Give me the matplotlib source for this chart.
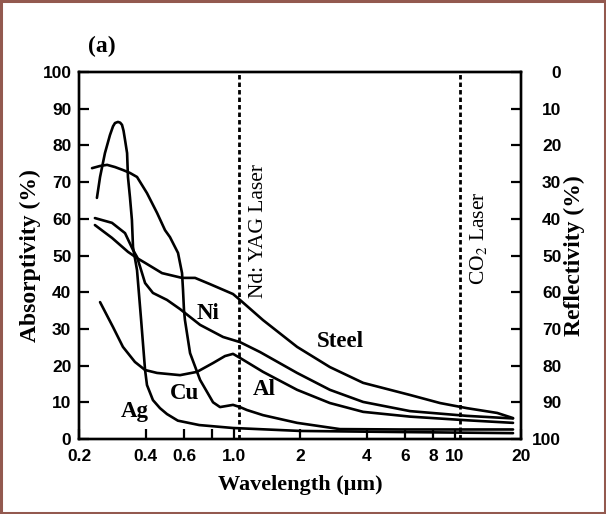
import numpy as np
import matplotlib
matplotlib.use("Agg")
import matplotlib.pyplot as plt
from matplotlib.patches import Rectangle

plt.rcParams["mathtext.fontset"] = "stix"

# wavelength (um) / absorptivity (%)
ag_wl = [0.241, 0.249, 0.262, 0.276, 0.285, 0.291, 0.300, 0.307, 0.313, 0.318,
         0.323, 0.330, 0.333, 0.340, 0.347, 0.351, 0.366, 0.382, 0.398, 0.406,
         0.432, 0.465, 0.500, 0.560, 0.700, 0.995, 2.0, 5.67, 18.4]
ag_abs = [65.7, 71.4, 77.9, 82.8, 85.2, 86.1, 86.4, 86.2, 85.6, 84.0,
          81.5, 77.9, 71.4, 65.9, 59.7, 52.3, 46.0, 32.4, 18.8, 14.7,
          10.6, 8.4, 6.8, 5.0, 3.8, 3.0, 2.2, 1.9, 1.6]

cu_wl = [0.229, 0.249, 0.268, 0.291, 0.316, 0.340, 0.366, 0.406, 0.451, 0.490,
         0.516, 0.561, 0.585, 0.591, 0.597, 0.603, 0.636, 0.706, 0.808, 0.869,
         0.995, 1.070, 1.15, 1.36, 1.94, 3.03, 5.67, 18.4]
cu_abs = [73.8, 74.4, 74.7, 74.1, 73.3, 72.5, 71.4, 67.0, 61.6, 56.9,
          55.0, 50.7, 45.2, 40.6, 35.1, 32.4, 23.4, 16.1, 10.0, 8.7,
          9.3, 8.7, 7.9, 6.5, 4.4, 2.7, 2.6, 2.6]

al_wl = [0.249, 0.285, 0.316, 0.358, 0.398, 0.451, 0.573, 0.684, 0.808, 0.915,
         0.995, 1.070, 1.36, 1.94, 2.73, 3.86, 6.29, 11.4, 18.4]
al_abs = [37.3, 30.5, 25.1, 21.0, 18.8, 18.0, 17.4, 18.3, 20.7, 22.6,
          23.2, 22.1, 18.3, 13.4, 9.8, 7.4, 6.1, 5.1, 4.4]

ni_wl = [0.236, 0.282, 0.323, 0.351, 0.366, 0.378, 0.398, 0.432, 0.500, 0.573,
         0.706, 0.897, 1.070, 1.318, 1.94, 2.73, 3.86, 6.29, 11.4, 18.4]
ni_abs = [60.2, 58.9, 56.1, 51.5, 49.6, 46.9, 42.5, 39.8, 37.9, 35.4,
          31.1, 27.8, 26.4, 23.7, 18.0, 13.4, 10.1, 7.6, 6.3, 5.6]

steel_wl = [0.236, 0.282, 0.333, 0.366, 0.398, 0.475, 0.585, 0.670, 0.783, 0.995,
            1.070, 1.36, 1.94, 2.73, 3.86, 6.29, 8.60, 11.4, 15.6, 18.4]
steel_abs = [58.3, 54.8, 51.0, 49.3, 48.0, 45.2, 43.9, 43.9, 42.2, 39.5,
             37.9, 32.4, 25.1, 19.6, 15.3, 12.0, 9.8, 8.4, 7.1, 5.7]

lasers = [1.064, 10.6]

x_ticks = [0.2, 0.4, 0.6, 0.8, 1.0, 2, 4, 6, 8, 10, 20]
x_labels = ["0.2", "0.4", "0.6", "", "1.0", "2", "4", "6", "8", "10", "20"]
y_ticks = list(range(0, 101, 10))

serif = "Liberation Serif"
sans = "Liberation Sans"

fig = plt.figure(figsize=(6.06, 5.14), dpi=100)
ax = fig.add_axes([0.1304, 0.1459, 0.7294, 0.714])

for wl, ab in [(ag_wl, ag_abs), (cu_wl, cu_abs), (al_wl, al_abs),
               (ni_wl, ni_abs), (steel_wl, steel_abs)]:
    ax.plot(wl, ab, color="black", lw=1.9, solid_capstyle="round",
            solid_joinstyle="round")

for wl in lasers:
    ax.axvline(wl, color="black", lw=2.0, linestyle=(0, (1.6, 1.1)))

ax.set_xscale("log")
ax.set_xlim(0.2, 20)
ax.set_ylim(0, 100)
ax.set_xticks(x_ticks)
ax.set_xticklabels(x_labels)
ax.xaxis.set_minor_locator(matplotlib.ticker.NullLocator())
ax.set_yticks(y_ticks)
ax.tick_params(direction="in", length=7.5, width=1.6, pad=5.5,
               labelsize=12.5, top=False, right=False)
ax.tick_params(axis="x", pad=7)
for lab in ax.get_xticklabels() + ax.get_yticklabels():
    lab.set_fontfamily(sans)
    lab.set_fontweight("bold")
for sp in ax.spines.values():
    sp.set_linewidth(1.7)

ax2 = ax.twinx()
ax2.set_ylim(100, 0)
ax2.set_yticks(y_ticks)
ax2.tick_params(direction="in", length=7.5, width=1.6, pad=29, labelsize=12.5)
for lab in ax2.get_yticklabels():
    lab.set_fontfamily(sans)
    lab.set_fontweight("bold")
    lab.set_horizontalalignment("right")
for sp in ax2.spines.values():
    sp.set_linewidth(1.7)

ax.set_xlabel("Wavelength (\u00b5m)", fontfamily=serif, fontweight="bold",
              fontsize=16, labelpad=8)
ax.set_ylabel("Absorptivity (%)", fontfamily=serif, fontweight="bold",
              fontsize=17, labelpad=1)
ax2.set_ylabel("Reflectivity (%)", fontfamily=serif, fontweight="bold",
               fontsize=17, rotation=90, labelpad=2)

# curve names
lbl = dict(fontfamily=serif, fontweight="bold", fontsize=16.5,
           ha="center", va="center")
ax.text(0.358, 7.4, "Ag", **lbl)
ax.text(0.603, 12.5, "Cu", **lbl)
ax.text(1.374, 13.4, "Al", **lbl)
ax.text(0.767, 34.3, "Ni", **lbl)
ax.text(3.03, 26.7, "Steel", **lbl)

ax.text(1.30, 56.7, "Nd: YAG Laser", fontfamily=serif, fontsize=15.5,
        rotation=90, ha="center", va="center")
ax.text(12.9, 54.8, "CO$_2$ Laser", fontfamily=serif, fontsize=15.5,
        rotation=90, ha="center", va="center")

fig.text(0.168, 0.91, "(a)", fontfamily=serif, fontweight="bold",
         fontsize=17, ha="center", va="center")

fig.patches.append(Rectangle((0.002, 0.002), 0.996, 0.996, transform=fig.transFigure,
                             fill=False, edgecolor="#93594f", lw=2.2))

fig.savefig("out.png", dpi=100)
